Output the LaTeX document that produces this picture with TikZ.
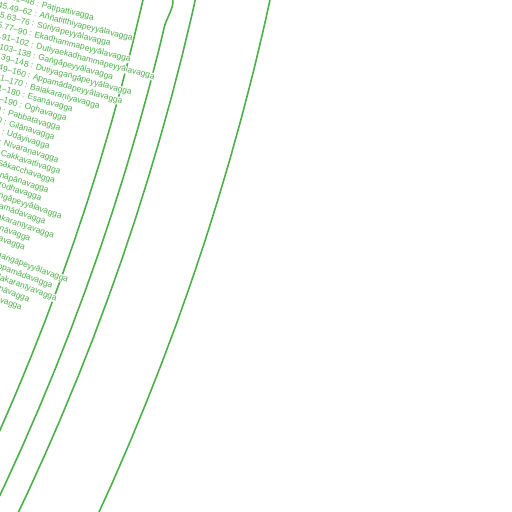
\documentclass[tikz,border=0pt]{standalone}
\usepackage{fontspec}
\setmainfont{Liberation Sans}
\usepackage{tikz}
\usetikzlibrary{calc, positioning}
\definecolor{setgreen}{RGB}{77,175,74}
\tikzset{
  vagga/.style={font=\fontsize{8.4}{10}\selectfont, text=setgreen, fill=white, inner sep=0pt, anchor=west},
  branch/.style={draw=setgreen, line width=1.6pt},
}
\begin{document}
\begin{tikzpicture}[x=1pt, y=-1pt]
\useasboundingbox (0,0) rectangle (512,512);
\clip (0,0) rectangle (512,512);

\coordinate (hub) at (-2170,-530);

% branches
\draw [branch] plot[domain=12.4:24.6, samples=80] ({-2170+2373*cos(\x)}, {-530+2373*sin(\x)});
\draw [branch] (171.5,-3) .. controls (176,4) and (168.5,14) .. (164.9,24.9)
  -- plot[domain=13.37:25.7, samples=80] ({-2170+2400*cos(\x)}, {-530+2400*sin(\x)});
\draw [branch] plot[domain=12.2:27, samples=80] ({-2170+2424*cos(\x)}, {-530+2424*sin(\x)});
\draw [branch] plot[domain=11.9:25, samples=80] ({-2170+2497*cos(\x)}, {-530+2497*sin(\x)});

% SN 45
\node [vagga, rotate=-13.61] (m41) at ($(hub)+(13.61:2233)$) {45.41–48 : Paṭipattivagga};
\node [vagga, rotate=-13.87] (m49) at ($(hub)+(13.87:2233)$) {45.49–62 : Aññatitthiyapeyyālavagga};
\node [vagga, rotate=-14.12] (m63) at ($(hub)+(14.12:2233)$) {45.63–76 : Sūriyapeyyālavagga};
\node [vagga, rotate=-14.38] (m77) at ($(hub)+(14.38:2233)$) {45.77–90 : Ekadhammapeyyālavagga};
\node [vagga, rotate=-14.64] (m91) at ($(hub)+(14.64:2233)$) {45.91–102 : Dutiyaekadhammapeyyālavagga};
\node [vagga, rotate=-14.90] (m103) at ($(hub)+(14.90:2233)$) {45.103–138 : Gaṅgāpeyyālavagga};
\node [vagga, rotate=-15.15] (m139) at ($(hub)+(15.15:2233)$) {45.139–148 : Dutiyagaṅgāpeyyālavagga};
\node [vagga, rotate=-15.41] (m149) at ($(hub)+(15.41:2233)$) {45.149–160 : Appamādapeyyālavagga};
\node [vagga, rotate=-15.67] (m161) at ($(hub)+(15.67:2233)$) {45.161–170 : Balakaraṇīyavagga};
\node [vagga, rotate=-15.92] (m171) at ($(hub)+(15.92:2233)$) {45.171–180 : Esanāvagga};
\node [vagga, rotate=-16.18] (m181) at ($(hub)+(16.18:2233)$) {45.181–190 : Oghavagga};

% SN 46
\node [vagga, rotate=-16.45] (b1) at ($(hub)+(16.45:2233)$) {46.1–10 : Pabbatavagga};
\node [vagga, rotate=-16.71] (b11) at ($(hub)+(16.71:2233)$) {46.11–20 : Gilānavagga};
\node [vagga, rotate=-16.96] (b21) at ($(hub)+(16.96:2233)$) {46.21–30 : Udāyivagga};
\node [vagga, rotate=-17.22] (b31) at ($(hub)+(17.22:2233)$) {46.31–40 : Nīvaraṇavagga};
\node [vagga, rotate=-17.47] (b41) at ($(hub)+(17.47:2233)$) {46.41–50 : Cakkavattivagga};
\node [vagga, rotate=-17.73] (b51) at ($(hub)+(17.73:2233)$) {46.51–60 : Sākacchavagga};
\node [vagga, rotate=-17.99] (b61) at ($(hub)+(17.99:2233)$) {46.61–66 : Ānāpānavagga};
\node [vagga, rotate=-18.24] (b67) at ($(hub)+(18.24:2233)$) {46.67–76 : Nirodhavagga};
\node [vagga, rotate=-18.50] (b77) at ($(hub)+(18.50:2233)$) {46.77–88 : Gaṅgāpeyyālavagga};
\node [vagga, rotate=-18.75] (b89) at ($(hub)+(18.75:2233)$) {46.89–98 : Appamādavagga};
\node [vagga, rotate=-19.01] (b99) at ($(hub)+(19.01:2233)$) {46.99–110 : Balakaraṇīyavagga};
\node [vagga, rotate=-19.27] (b111) at ($(hub)+(19.27:2233)$) {46.111–120 : Esanāvagga};
\node [vagga, rotate=-19.52] (b121) at ($(hub)+(19.52:2233)$) {46.121–130 : Oghavagga};
\node [vagga, rotate=-19.91] (b131) at ($(hub)+(19.91:2233)$) {46.131–142 : Punagaṅgāpeyyālavagga};
\node [vagga, rotate=-20.17] (b143) at ($(hub)+(20.17:2233)$) {46.143–152 : Punaappamādavagga};
\node [vagga, rotate=-20.42] (b153) at ($(hub)+(20.42:2233)$) {46.153–164 : Punabalakaraṇīyavagga};
\node [vagga, rotate=-20.68] (b165) at ($(hub)+(20.68:2233)$) {46.165–174 : Punaesanāvagga};
\node [vagga, rotate=-20.93] (b175) at ($(hub)+(20.93:2233)$) {46.175–184 : Punaoghavagga};
\end{tikzpicture}
\end{document}
